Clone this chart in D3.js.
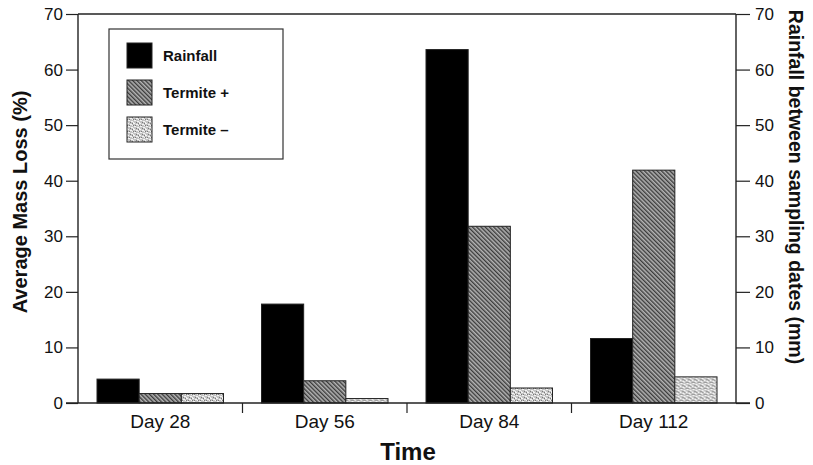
<!DOCTYPE html>
<html>
<head>
<meta charset="utf-8">
<script src="https://cdn.jsdelivr.net/npm/d3@7"></script>
<style>
  body { margin: 0; background: #fff; }
  text { font-family: "Liberation Sans", Arial, Helvetica, sans-serif; fill: #111; }
</style>
</head>
<body>
<div id="chart"></div>
<script>
// Data
let days = ['Day 28', 'Day 56', 'Day 84', 'Day 112'];
let seriesNames = ['Rainfall', 'Termite +', 'Termite \u2013'];
let rainfall = [4.3, 17.8, 63.6, 11.6];
let termitePlus = [1.7, 4.0, 31.8, 41.9];
let termiteMinus = [1.7, 0.8, 2.7, 4.7];
let yTicks = [0, 10, 20, 30, 40, 50, 60, 70];

let svgWidth = 813;
let svgHeight = 465;
let margins = { top: 14, bottom: 62, left: 78, right: 77 };
let chartWidth = svgWidth - margins.left - margins.right;
let chartHeight = svgHeight - margins.top - margins.bottom;

let svg = d3.select('#chart').append('svg')
    .attr('width', svgWidth)
    .attr('height', svgHeight);

// Fill patterns: diagonal hatch and stipple
let defs = svg.append('defs');
let hatch = defs.append('pattern')
    .attr('id', 'hatch')
    .attr('patternUnits', 'userSpaceOnUse')
    .attr('width', 3).attr('height', 3)
    .attr('patternTransform', 'rotate(-45)');
hatch.append('rect').attr('width', 3).attr('height', 3).attr('fill', '#b4b4b4');
hatch.append('rect').attr('width', 1.4).attr('height', 3).attr('fill', '#3c3c3c');

let stipple = defs.append('pattern')
    .attr('id', 'stipple')
    .attr('patternUnits', 'userSpaceOnUse')
    .attr('width', 6).attr('height', 6);
stipple.append('rect').attr('width', 6).attr('height', 6).attr('fill', '#c4c4c4');
[[0, 0, 2, 1], [3, 1, 2, 1], [1, 3, 2, 1], [4, 4, 2, 1], [0, 5, 1, 1], [5, 2, 1, 1]].forEach(p => {
    stipple.append('rect').attr('x', p[0]).attr('y', p[1])
        .attr('width', p[2]).attr('height', p[3]).attr('fill', '#f4f4f4');
});
[[2, 2], [5, 0], [0, 2], [3, 5]].forEach(p => {
    stipple.append('rect').attr('x', p[0]).attr('y', p[1])
        .attr('width', 1).attr('height', 1).attr('fill', '#7a7a7a');
});

let fills = ['#000', 'url(#hatch)', 'url(#stipple)'];

let chart = svg.append('g')
    .attr('transform', `translate(${margins.left}, ${margins.top})`);

// Scales
let xScale = d3.scaleBand().domain(days).range([0, chartWidth]).paddingInner(0).paddingOuter(0);
let xInner = d3.scaleBand().domain(seriesNames)
    .range([19, xScale.bandwidth() - 19]);
let yScale = d3.scaleLinear().domain([0, 70]).range([chartHeight, 0]);

// Bars
let rows = days.map((d, i) => ({ day: d, values: [rainfall[i], termitePlus[i], termiteMinus[i]] }));
let groups = chart.selectAll('g.dayGroup')
    .data(rows).enter()
    .append('g')
    .attr('class', 'dayGroup')
    .attr('transform', d => `translate(${xScale(d.day)}, 0)`);
groups.selectAll('rect')
    .data(d => d.values.map((v, j) => ({ name: seriesNames[j], value: v, fill: fills[j] })))
    .enter().append('rect')
    .attr('x', d => xInner(d.name))
    .attr('width', xInner.bandwidth())
    .attr('y', d => yScale(d.value))
    .attr('height', d => chartHeight - yScale(d.value))
    .attr('fill', d => d.fill)
    .attr('stroke', '#222')
    .attr('stroke-width', 1);

// Axes
let axisLeft = d3.axisLeft(yScale).tickValues(yTicks).tickSize(12).tickPadding(3);
let axisRight = d3.axisRight(yScale).tickValues(yTicks).tickSize(14).tickPadding(5);

let leftTag = chart.append('g').call(axisLeft);
let rightTag = chart.append('g').attr('transform', `translate(${chartWidth}, 0)`).call(axisRight);
[leftTag, rightTag].forEach(g => {
    g.select('.domain').attr('stroke', '#222').attr('stroke-width', 1.4);
    g.selectAll('.tick line').attr('stroke', '#222').attr('stroke-width', 1.2);
    g.selectAll('.tick text').style('font-size', '17px').attr('fill', '#222');
});
leftTag.select('.domain').attr('d', `M0,${chartHeight}V0`);
rightTag.select('.domain').attr('d', `M0,${chartHeight}V0`);

// Top frame line
chart.append('line')
    .attr('x1', 0).attr('x2', chartWidth)
    .attr('y1', 0).attr('y2', 0)
    .attr('stroke', '#222').attr('stroke-width', 1.4);

// Bottom axis with separator ticks between days
let axisBottom = d3.axisBottom(xScale).tickSize(0).tickPadding(12);
let bottomTag = chart.append('g').attr('transform', `translate(0, ${chartHeight})`).call(axisBottom);
bottomTag.select('.domain').attr('d', `M-12,0H${chartWidth + 14}`).attr('stroke', '#222').attr('stroke-width', 1.4);
bottomTag.selectAll('.tick text').style('font-size', '19px').attr('fill', '#222');
bottomTag.selectAll('line.sep')
    .data(days.slice(1)).enter()
    .append('line')
    .attr('class', 'sep')
    .attr('x1', d => xScale(d)).attr('x2', d => xScale(d))
    .attr('y1', 0).attr('y2', 10)
    .attr('stroke', '#222').attr('stroke-width', 1.2);

// Axis titles
chart.append('text')
    .attr('transform', `translate(${-51}, ${188}) rotate(-90)`)
    .attr('text-anchor', 'middle')
    .style('font-size', '20px').style('font-weight', 'bold')
    .text('Average Mass Loss (%)');
chart.append('text')
    .attr('transform', `translate(${chartWidth + 53}, ${173}) rotate(90)`)
    .attr('text-anchor', 'middle')
    .style('font-size', '19.5px').style('font-weight', 'bold')
    .text('Rainfall between sampling dates (mm)');
chart.append('text')
    .attr('x', chartWidth / 2 + 1).attr('y', chartHeight + 57)
    .attr('text-anchor', 'middle')
    .style('font-size', '24px').style('font-weight', 'bold')
    .text('Time');

// Legend
let legend = chart.append('g').attr('transform', 'translate(31, 15)');
legend.append('rect')
    .attr('width', 174).attr('height', 130)
    .attr('fill', '#fff').attr('stroke', '#333').attr('stroke-width', 1.2);
let legendItems = legend.selectAll('g.item')
    .data(seriesNames).enter()
    .append('g')
    .attr('class', 'item')
    .attr('transform', (d, i) => `translate(18, ${14 + i * 37})`);
legendItems.append('rect')
    .attr('width', 25).attr('height', 25)
    .attr('fill', (d, i) => fills[i])
    .attr('stroke', '#222').attr('stroke-width', 1);
legendItems.append('text')
    .attr('x', 36).attr('y', 18)
    .style('font-size', '15px').style('font-weight', 'bold')
    .text(d => d);
</script>
</body>
</html>
